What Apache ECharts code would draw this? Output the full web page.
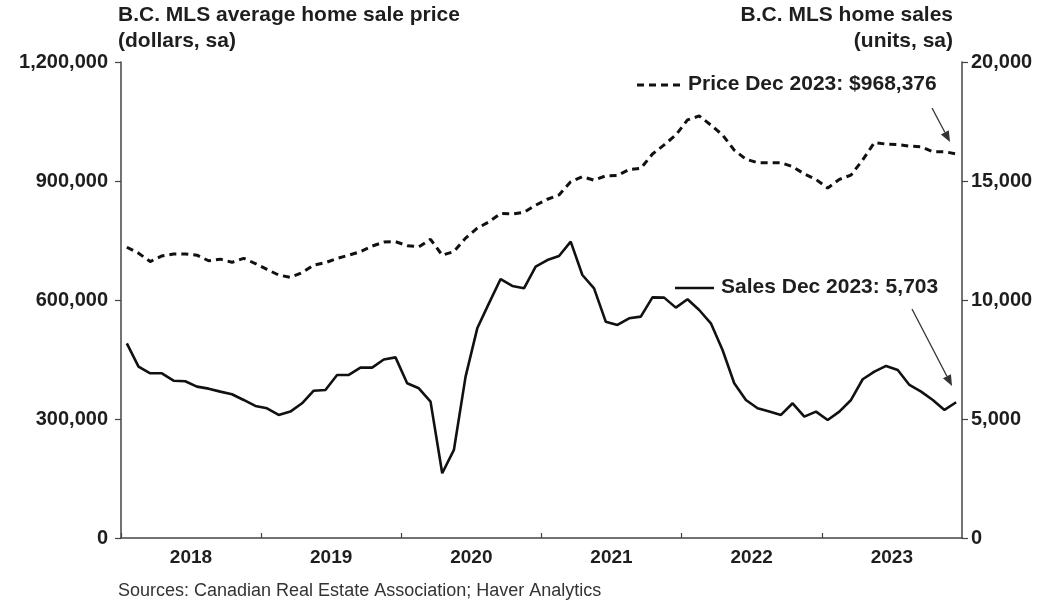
<!DOCTYPE html>
<html>
<head>
<meta charset="utf-8">
<script src="https://cdn.jsdelivr.net/npm/echarts@6/dist/echarts.min.js"></script>
<style>
html,body{margin:0;padding:0;background:#fff;}
#chart{width:1051px;height:604px;}
</style>
</head>
<body>
<div id="chart"></div>
<script>
// Monthly, Jan 2018 .. Dec 2023
const years = ['2018','2019','2020','2021','2022','2023'];
const priceValues = [
  733000,718000,697000,711000,716000,716000,713000,699000,703000,695000,705000,692000,
  677000,663000,657000,669000,688000,694000,705000,713000,722000,736000,746000,747000,
  737000,734000,753000,713000,722000,756000,781000,797000,818000,817000,821000,839000,
  854000,865000,898000,911000,902000,913000,914000,929000,932000,968000,991000,1016000,
  1054000,1064000,1041000,1016000,978000,955000,946000,946000,946000,936000,918000,904000,
  882000,904000,915000,953000,997000,993000,992000,988000,986000,974000,974000,968376
];
const salesValues = [
  8180,7200,6920,6920,6610,6585,6360,6275,6150,6040,5800,5550,
  5450,5170,5310,5660,6190,6220,6850,6850,7160,7160,7500,7590,
  6500,6290,5730,2720,3700,6780,8810,9860,10880,10590,10490,11400,
  11680,11850,12450,11050,10490,9090,8950,9230,9300,10110,10100,9680,
  10030,9580,9020,7900,6500,5800,5450,5310,5170,5660,5100,5310,
  4960,5310,5800,6670,6990,7230,7060,6430,6150,5800,5380,5703
];
const priceTicks = [0, 300000, 600000, 900000, 1200000];
const salesTicks = [0, 5000, 10000, 15000, 20000];
const priceLabel = 'Price Dec 2023: $968,376';
const salesLabel = 'Sales Dec 2023: 5,703';

const FONT = "'Liberation Sans', Arial, sans-serif";
const TXT = '#1e1e1e';
const AX = '#444';

const priceData = priceValues.map((v, i) => [i + 0.5, v]);
const salesData = salesValues.map((v, i) => [i + 0.5, v]);
const fmt = v => v.toLocaleString('en-US');

const chart = echarts.init(document.getElementById('chart'), null, {renderer: 'canvas'});

function arrow(x1, y1, x2, y2) {
  const ang = Math.atan2(y2 - y1, x2 - x1);
  const L = 11, W = 4.5;
  const bx = x2 - L * Math.cos(ang), by = y2 - L * Math.sin(ang);
  const px = -Math.sin(ang) * W, py = Math.cos(ang) * W;
  return [
    {type: 'line', shape: {x1: x1, y1: y1, x2: bx, y2: by}, style: {stroke: '#333', lineWidth: 1.3}},
    {type: 'polygon', shape: {points: [[x2, y2], [bx + px, by + py], [bx - px, by - py]]}, style: {fill: '#333'}}
  ];
}

chart.setOption({
  animation: false,
  backgroundColor: '#fff',
  grid: {left: 121, right: 89, top: 62, bottom: 66, containLabel: false},
  xAxis: {
    type: 'value', min: 0, max: 72, interval: 12,
    axisLine: {show: true, onZero: false, lineStyle: {color: AX, width: 1.5}},
    axisTick: {show: true, inside: true, length: 5, lineStyle: {color: AX, width: 1.2}},
    splitLine: {show: false},
    axisLabel: {
      show: true, margin: 10, color: TXT, fontFamily: FONT, fontWeight: 'bold', fontSize: 19,
      padding: [0, 0, 0, 140],
      showMaxLabel: false,
      formatter: v => (v < 72 ? years[Math.round(v / 12)] : '')
    }
  },
  yAxis: [
    {
      type: 'value', min: priceTicks[0], max: priceTicks[priceTicks.length - 1], interval: priceTicks[1] - priceTicks[0],
      position: 'left',
      axisLine: {show: true, lineStyle: {color: AX, width: 1.5}},
      axisTick: {show: true, length: 6, lineStyle: {color: AX, width: 1.2}},
      splitLine: {show: false},
      axisLabel: {margin: 13, color: TXT, fontFamily: FONT, fontWeight: 'bold', fontSize: 20, formatter: fmt}
    },
    {
      type: 'value', min: salesTicks[0], max: salesTicks[salesTicks.length - 1], interval: salesTicks[1] - salesTicks[0],
      position: 'right',
      axisLine: {show: true, lineStyle: {color: AX, width: 1.5}},
      axisTick: {show: true, length: 6, lineStyle: {color: AX, width: 1.2}},
      splitLine: {show: false},
      axisLabel: {margin: 9, color: TXT, fontFamily: FONT, fontWeight: 'bold', fontSize: 20, formatter: fmt}
    }
  ],
  series: [
    {
      name: 'Price', type: 'line', yAxisIndex: 0, data: priceData, showSymbol: false, symbol: 'none',
      lineStyle: {color: '#111', width: 3, type: [7, 5]}, z: 3
    },
    {
      name: 'Sales', type: 'line', yAxisIndex: 1, data: salesData, showSymbol: false, symbol: 'none',
      lineStyle: {color: '#111', width: 2.6, type: 'solid'}, z: 3
    }
  ],
  graphic: [
    {type: 'text', left: 118, top: 5, style: {text: 'B.C. MLS average home sale price', font: "bold 21px " + FONT, fill: TXT}},
    {type: 'text', left: 118, top: 31, style: {text: '(dollars, sa)', font: "bold 21px " + FONT, fill: TXT}},
    {type: 'text', right: 98, top: 5, style: {text: 'B.C. MLS home sales', font: "bold 21px " + FONT, fill: TXT, align: 'right'}},
    {type: 'text', right: 98, top: 31, style: {text: '(units, sa)', font: "bold 21px " + FONT, fill: TXT, align: 'right'}},
    {type: 'text', left: 118, top: 582, style: {text: 'Sources: Canadian Real Estate Association; Haver Analytics', font: "18px " + FONT, fill: '#333'}},
    {type: 'line', shape: {x1: 637, y1: 85, x2: 681, y2: 85}, style: {stroke: '#111', lineWidth: 3, lineDash: [7, 5]}},
    {type: 'text', left: 688, top: 74, style: {text: priceLabel, font: "bold 21px " + FONT, fill: TXT}},
    {type: 'line', shape: {x1: 675, y1: 288, x2: 714, y2: 288}, style: {stroke: '#111', lineWidth: 2.6}},
    {type: 'text', left: 721, top: 277, style: {text: salesLabel, font: "bold 21px " + FONT, fill: TXT}}
  ].concat(arrow(932, 108, 950, 142)).concat(arrow(912, 309, 952, 386))
});
</script>
</body>
</html>
